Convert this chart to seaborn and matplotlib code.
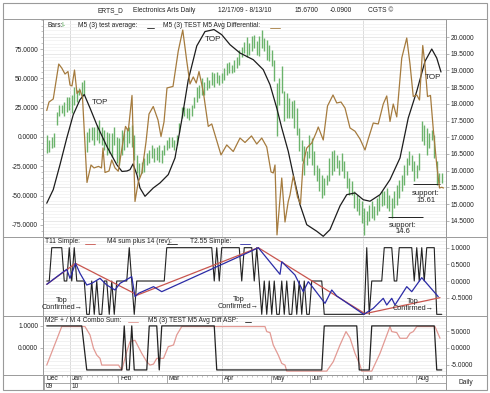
import numpy as np
import matplotlib
matplotlib.use("Agg")
import matplotlib.pyplot as plt
from matplotlib.lines import Line2D
from matplotlib.patches import Rectangle
import seaborn as sns

# ---- price bars (high / low per trading day) ----
bar_hi = [17.07, 16.92, 17.02, 17.12, 17.76, 17.96, 17.96, 18.06, 18.21, 18.21,
          18.26, 18.51, 18.41, 18.46, 18.66, 18.71, 17.17, 17.27, 17.32, 17.32,
          17.37, 17.52, 17.32, 17.22, 17.17, 17.12, 17.12, 17.32, 17.02, 16.97,
          17.22, 17.12, 17.27, 17.32, 17.37, 17.07, 16.47, 16.22, 16.27, 16.37,
          16.52, 16.62, 16.77, 16.67, 16.72, 16.77, 16.62, 16.77, 16.92, 17.02,
          17.02, 16.92, 17.07, 17.42, 17.91, 17.91, 17.86, 17.86, 17.96, 18.21,
          18.51, 18.56, 18.76, 18.66, 18.81, 18.71, 18.96, 18.91, 18.96, 18.86,
          18.91, 19.06, 19.21, 19.26, 19.16, 19.31, 19.41, 19.61, 19.71, 19.86,
          20.01, 19.81, 20.02, 20.07, 19.87, 20.02, 20.22, 19.97, 19.92, 19.77,
          19.62, 19.32, 18.62, 18.77, 19.12, 18.37, 18.32, 18.17, 18.07, 18.12,
          17.87, 17.28, 16.93, 16.73, 16.58, 17.08, 16.98, 16.58, 16.18, 16.08,
          15.88, 15.78, 15.88, 16.38, 16.58, 16.63, 16.48, 16.33, 16.53, 16.28,
          15.98, 15.78, 15.68, 15.38, 15.28, 15.18, 15.08, 14.88, 14.78, 14.98,
          15.08, 14.93, 15.18, 15.28, 15.38, 15.38, 15.48, 15.28, 15.18, 15.38,
          15.58, 15.73, 15.88, 16.18, 16.38, 16.58, 16.48, 16.28, 16.18, 16.53,
          17.48, 17.38, 17.28, 17.13, 17.23, 17.08, 16.28, 15.92, 15.92]
bar_lo = [16.52, 16.57, 16.67, 16.72, 17.37, 17.62, 17.71, 17.62, 17.76, 17.81,
          17.71, 17.96, 18.06, 18.26, 18.16, 18.26, 16.57, 16.87, 16.92, 16.77,
          16.92, 16.82, 16.77, 16.62, 16.47, 16.52, 16.42, 16.77, 16.22, 16.17,
          16.47, 16.62, 16.72, 16.82, 16.72, 16.32, 15.92, 15.82, 15.92, 15.97,
          16.17, 16.22, 16.37, 16.27, 16.32, 16.27, 16.22, 16.47, 16.62, 16.67,
          16.72, 16.62, 16.77, 17.17, 17.57, 17.62, 17.57, 17.52, 17.62, 17.86,
          18.06, 18.16, 18.26, 18.26, 18.41, 18.46, 18.56, 18.51, 18.61, 18.56,
          18.61, 18.71, 18.86, 18.91, 18.91, 18.96, 19.06, 19.16, 19.41, 19.51,
          19.41, 19.46, 19.57, 19.67, 19.47, 19.42, 19.67, 19.57, 19.32, 19.27,
          19.12, 18.67, 17.03, 17.97, 18.32, 17.48, 17.58, 17.58, 17.58, 17.28,
          17.08, 16.58, 16.28, 15.88, 16.18, 16.38, 16.18, 15.88, 15.68, 15.38,
          15.18, 15.28, 15.58, 15.68, 15.88, 15.98, 16.08, 15.88, 15.98, 15.78,
          15.48, 15.28, 15.28, 14.88, 14.78, 14.68, 14.43, 14.08, 14.38, 14.48,
          14.58, 14.53, 14.68, 14.78, 14.93, 14.98, 14.88, 14.78, 14.58, 14.88,
          14.98, 15.18, 15.38, 15.58, 15.88, 16.18, 15.98, 15.68, 15.78, 16.03,
          16.88, 16.78, 16.48, 16.68, 16.93, 16.38, 15.58, 15.63, 15.63]

# ---- M5 (3) test average (black) ----
avg_x = [0, 2.6, 5.3, 8, 10.6, 13.3, 15, 17.3, 20, 24, 28, 30.1, 32.1, 33.3, 34.5, 36.1,
         37.3, 39.3, 42.6, 45.3, 48.6, 51.3, 54, 56.6, 60, 63.3, 66.9, 70, 73.3, 77.3,
         82.6, 86.6, 89.3, 92, 94, 96.6, 98.6, 101.3, 104, 108, 110.6, 113.3, 117.3,
         120, 123.3, 126.6, 129.3, 133.3, 137.3, 141.3, 144.6, 148, 151.3, 154, 156, 157.7]
avg_v = [-56.5, -44.9, -23.6, -1.0, 19.0, 31.8, 36.2, 24.7, 10.5, -7.9, -23.6, -29.4,
         -29.0, -27.9, -23.0, -32.4, -43.5, -50.6, -43.5, -39.2, -32.1, -17.9, 14.5,
         48.6, 77.6, 89.9, 91.6, 87.2, 78.7, 71.6, 65.9, 57.4, 44.6, 24.7, 7.7, -12.2,
         -32.1, -57.7, -74.8, -80.4, -84.7, -79.0, -58.8, -49.2, -47.7, -53.5, -54.8,
         -49.2, -36.4, -17.9, 16.2, 39.0, 64.5, 75.0, 67.3, 55.4]

# ---- M5 (3) TEST M5 Avg Differential (brown) ----
diff_x = [0, 0.9, 2.6, 4.8, 6, 7.3, 8.5, 9.3, 10.1, 11.1,
          12.1, 13.3, 14.3, 16.1, 17.7, 18.9, 20.7, 21.9, 22.5, 23.3,
          24.9, 26, 27.3, 28.6, 30.1, 31.5, 32.6, 34.1, 35.3, 36.6,
          38, 39.7, 40.9, 42.6, 44.5, 45.7, 46.9, 48.1, 50.5, 52.6,
          54.4, 56, 57.3, 58.6, 59.8, 60.9, 62.6, 64.6, 66, 69.7,
          72, 74.6, 77.3, 79.3, 81.9, 84, 86, 88, 89.7, 90.6,
          91.3, 92.1, 94, 95.3, 96.6, 97.3, 98.6, 100.3, 101.5, 102.5,
          104, 106, 107.9, 108.6, 110.6, 112.3, 114.5, 116, 117.7, 119.3,
          121.3, 123.3, 125.3, 127.3, 128.6, 130.6, 132.6, 134.6, 136, 137.3,
          138.6, 140, 142, 144, 145.3, 146.6, 148, 149.1, 150.4, 151.3,
          152.3, 153.5, 154.6, 156, 157.1, 158, 158.7]
diff_v = [22.6, 29.8, 32.4, 62.2, 58.8, 53.7, 55.8, 44.3, 43.5, 57.1,
          37.1, 40.1, 33.7, -38.8, -23.9, -26.4, -25.1, -26.4, -9.4, -30.3,
          -29.0, -19.6, -26.4, -29.2, -9.4, 9.0, 5.1, 35.4, -55.0, -38.4,
          -30.9, -4.3, 19.6, 26.0, 14.5, 0.4, 12.8, 41.8, 43.1, 73.3,
          91.2, 64.8, 45.2, 51.2, 46.0, 55.8, 38.8, 9.0, 11.1, -15.3,
          -6.8, -12.4, -0.9, -4.7, 0.9, -6.0, -0.9, -8.5, -29.8, -30.7,
          -23.9, -83.5, -35.0, -72.5, -55.0, -49.4, -33.2, -51.2, -57.1, -23.4,
          -9.4, -5.1, 4.3, 8.5, -2.6, 26.4, 35.8, 29.0, 29.8, 24.7,
          7.7, 4.9, -1.7, -11.1, -1.7, 11.9, 11.1, 28.1, 35.0, 13.2,
          28.1, 17.1, 67.3, 84.4, 62.2, 34.5, 35.8, 31.5, 78.0, 61.4,
          34.5, 35.4, 6.8, -23.9, -43.5, -42.9, -43.5]

# ---- panel 2 ----
m4_x = [0, 1, 2, 6, 7, 8, 9, 10, 11, 12, 15, 16, 17, 18, 19, 20, 21, 22, 23, 24,
        25, 26, 27, 28, 32, 33, 34, 35, 36, 47, 48, 66, 67, 68, 69, 70, 77, 78, 79, 82,
        83, 84, 85, 86, 87, 88, 89, 90, 91, 92, 93, 94, 95, 96, 97, 98, 99, 100, 101, 102,
        103, 104, 105, 106, 110, 111, 127, 128, 129, 130, 134, 135, 138, 139, 140, 141,
        146, 147, 148, 149, 150, 151, 152, 155, 156, 158]
m4_y = [0, 0, 1, 1, 0, 0, 1, 0, 1, 0, 0, -1, -1, 0, -1, 0, -1, -1, 0, 0,
        -1, 0, -1, 0, 0, 1, 0, -1, 0, 0, 1, 1, 0, 1, 0, 1, 1, 0, 1, 1,
        0, 1, 0, -1, 0, -1, 0, -1, 0, -1, -1, 0, -1, 0, -1, -1, 0, -1, 0, -1,
        0, -1, -1, 0, 0, -1, -1, 1, -1, 0, 0, 1, 1, 0, 0, 1,
        1, 0, 1, 0, 1, 0, 1, 1, -1, -1]
t11_x = [0, 11.5, 36.3, 84.6, 127.3, 157.3]
t11_y = [-0.1, 0.53, -0.42, 1.0, -0.98, -0.5]
t255_x = [0, 8, 9.3, 11.5, 13.3, 16, 18, 21.3, 24, 27.3, 29.3, 34, 35.3, 36.7, 42.7, 46,
          81.3, 84.6, 93.3, 94, 99.3, 102.6, 104.6, 106, 111.3, 114, 116, 126.8, 130.6,
          134.6, 136, 138, 139.3, 144, 146, 150, 156.6]
t255_y = [-0.1, 0.35, 0.08, 0.53, 0.23, -0.12, -0.07, 0.08, -0.12, -0.27, -0.07, 0.13,
          -0.47, -0.37, -0.17, -0.32, 0.88, 1.0, 0.2, 0.58, 0.18, -0.32, -0.02, -0.15,
          -0.67, -0.27, -0.45, -1.0, -0.82, -0.52, -0.72, -0.52, -0.72, -0.17, -0.32,
          0.1, -0.47]

# ---- panel 3 ----
asp_x = [0, 14, 16, 30, 31, 32, 33, 34, 35, 40, 41, 44, 45, 46, 67, 68, 110, 111, 124,
         125, 129, 130, 155, 156, 158]
asp_y = [1, 1, -1, -1, 1, -1, -1, 1, -1, -1, 1, 1, -1, 1, 1, -1, -1, 1, 1, -1, -1, 1, 1, -1, -1]
combo_x = [0, 6, 15.3, 17.3, 18.7, 20, 21.3, 22, 28.7, 30, 32, 33.3, 35.3, 38, 40, 41.3,
           42.7, 44, 46.7, 48.6, 50.7, 52, 54, 87.3, 88, 89.3, 90.6, 92.6, 94, 95.3, 96,
           112, 114.6, 117.3, 119.7, 121.3, 123.3, 125.3, 126, 130, 133.3, 137.3, 138,
           140, 141.3, 144, 145.3, 146.6, 148, 155.3, 157.3]
combo_y = [-5.1, 6.4, 6.4, 3.9, -0.1, -2.1, -3.1, -5.1, -5.1, -6.6, -1.1, 1.9, 2.3, -1.6,
           -4.1, -5.1, -4.8, -3.1, -3.1, 0.4, 0.9, 3.9, 6.4, 6.4, 4.9, 4.6, 0.9, -2.1,
           -4.6, -5.1, -6.9, -6.9, -4.1, 0.9, 4.9, 3.0, -1.6, -5.1, -6.9, -6.9, -1.6, 6.4,
           4.9, 4.6, 2.9, 2.9, 4.4, 4.9, 6.4, 6.4, 2.9]

# ---- axis labels ----
month_names = ['Dec', 'Jan', 'Feb', 'Mar', 'Apr', 'May', 'Jun', 'Jul', 'Aug']
month_pos = [-1.1, 9.3, 28.6, 48.0, 70.0, 89.6, 105.3, 126.6, 147.6]
year_names = {'Dec': '09', 'Jan': '10'}
quarter_pos = [9.3, 70.0, 126.6]
price_ticks = [20.0, 19.5, 19.0, 18.5, 18.0, 17.5, 17.0, 16.5, 16.0, 15.5, 15.0, 14.5]
osc_ticks = [75, 50, 25, 0, -25, -50, -75]
sig_ticks = [1.0, 0.5, 0.0, -0.5]
asp_ticks = [1.0, 0.0]
combo_ticks = [5.0, 0.0, -5.0]
support_14 = 14.6
support_15 = 15.61

sns.set_style("white")
plt.rcParams['font.family'] = ['Liberation Sans', 'DejaVu Sans']

W, H = 490, 393
fig = plt.figure(figsize=(W / 100, H / 100), dpi=100)
FRAME = '#9a9a9a'
FS = 4.8


def box(l, t, r, b):
    return [l / W, 1 - b / H, (r - l) / W, (b - t) / H]


def style(ax):
    ax.set_xlim(-1.5, 159.7)
    ax.set_xticks([])
    ax.set_xlabel('')
    ax.set_ylabel('')
    for s in ax.spines.values():
        s.set_color(FRAME)
        s.set_linewidth(0.7)
    ax.tick_params(axis='y', which='major', labelsize=FS, length=2, width=0.5,
                   color=FRAME, pad=1.5, labelcolor='#222222')
    ax.tick_params(axis='y', which='minor', length=1.2, width=0.4, color=FRAME)


def fmt(vals):
    return [f"{v:.4f}" for v in vals]


def figline(x0, x1, y, color, lw=0.8):
    fig.add_artist(Line2D([x0 / W, x1 / W], [1 - y / H] * 2, color=color, lw=lw,
                          transform=fig.transFigure))


def figtext(x, y, s, color='#222222', size=FS, **kw):
    fig.text(x / W, 1 - y / H, s, color=color, fontsize=size, va='center', **kw)


# ---- main panel ----
ax1 = fig.add_axes(box(43, 19, 446, 237))
ax1p = ax1.twinx()
days = np.arange(len(bar_hi))
ax1p.vlines(days, bar_lo, bar_hi, color='#6bb36b', lw=1.0)
ax1p.hlines(support_14, 136.5, 150.5, color='#222222', lw=0.7)
ax1p.hlines(support_15, 146.6, 157.3, color='#222222', lw=0.7)
ax1p.text(142.5, 14.27, "support:\n14.6", fontsize=5.5, ha='center', va='center',
          linespacing=0.95)
ax1p.text(151.7, 15.22, "support:\n15.61", fontsize=5.5, ha='center', va='center',
          linespacing=0.95)
for d in quarter_pos:
    ax1p.axvline(d, color='#d6d6d6', lw=0.6, zorder=0)

sns.lineplot(x=avg_x, y=avg_v, ax=ax1, color='#1c1c1c', lw=0.9, estimator=None, sort=False)
sns.lineplot(x=diff_x, y=diff_v, ax=ax1, color='#a57b3e', lw=0.9, estimator=None, sort=False)
ax1.text(21.3, 29, "TOP", fontsize=5.8, ha='center', va='center')
ax1.text(66.4, 83, "TOP", fontsize=5.8, ha='center', va='center')
ax1.text(154.5, 50.3, "TOP", fontsize=5.8, ha='center', va='center')

style(ax1)
style(ax1p)
ax1.set_ylim(-85.3, 100.6)
ax1.set_yticks(osc_ticks)
ax1.set_yticklabels(fmt(osc_ticks))
ax1.set_yticks(np.arange(-85, 101, 5), minor=True)
ax1p.set_ylim(14.012, 20.539)
ax1p.set_yticks(price_ticks)
ax1p.set_yticklabels(fmt(price_ticks))
ax1p.set_yticks(np.arange(14.1, 20.55, 0.1), minor=True)
ax1p.tick_params(axis='y', which='minor', length=0)
ax1p.grid(True, which='minor', axis='y', color='#f0f0f0', lw=0.5)
ax1p.grid(True, which='major', axis='y', color='#dedede', lw=0.5)
ax1.set_zorder(ax1p.get_zorder() + 1)
ax1.patch.set_visible(False)

# ---- panel 2 ----
ax2 = fig.add_axes(box(43, 237, 446, 316))
for d in quarter_pos:
    ax2.axvline(d, color='#d6d6d6', lw=0.6, zorder=0)
sns.lineplot(x=m4_x, y=m4_y, ax=ax2, color='#222222', lw=0.8, estimator=None, sort=False)
sns.lineplot(x=t11_x, y=t11_y, ax=ax2, color='#c8554e', lw=0.9, estimator=None, sort=False)
sns.lineplot(x=t255_x, y=t255_y, ax=ax2, color='#2b2ba6', lw=0.9, estimator=None, sort=False)
for (xd, yv) in [(6.1, -0.68), (76.7, -0.66), (146.5, -0.72)]:
    ax2.text(xd, yv, "Top\nConfirmed\u2192", fontsize=5.3, ha='center', va='center',
             linespacing=0.95)
style(ax2)
ax2.yaxis.tick_right()
ax2.set_ylim(-1.05, 1.32)
ax2.set_yticks(sig_ticks)
ax2.set_yticklabels(fmt(sig_ticks))
ax2.set_yticks(np.arange(-1.0, 1.31, 0.1), minor=True)
ax2.tick_params(axis='y', which='minor', length=0)
ax2.grid(True, which='both', axis='y', color='#ebebeb', lw=0.5)

# ---- panel 3 ----
ax3 = fig.add_axes(box(43, 316, 446, 375))
ax3r = ax3.twinx()
for d in quarter_pos:
    ax3r.axvline(d, color='#d6d6d6', lw=0.6, zorder=0)
sns.lineplot(x=combo_x, y=combo_y, ax=ax3r, color='#e29a94', lw=0.9, estimator=None, sort=False)
sns.lineplot(x=asp_x, y=asp_y, ax=ax3, color='#222222', lw=0.9, estimator=None, sort=False)
style(ax3)
style(ax3r)
ax3.set_ylim(-1.23, 1.45)
ax3.set_yticks(asp_ticks)
ax3.set_yticklabels(fmt(asp_ticks))
ax3r.set_ylim(-8.06, 9.55)
ax3r.set_yticks(combo_ticks)
ax3r.set_yticklabels(fmt(combo_ticks))
ax3r.set_yticks(np.arange(-8, 10, 1.0), minor=True)
ax3r.tick_params(axis='y', which='minor', length=0)
ax3r.grid(True, which='both', axis='y', color='#ebebeb', lw=0.5)
ax3.set_zorder(ax3r.get_zorder() + 1)
ax3.patch.set_visible(False)

# ---- date row ----
axd = fig.add_axes(box(43, 375, 446, 390))
style(axd)
axd.set_ylim(0, 1)
axd.set_yticks([])
axd.set_xticks(np.arange(0, 159, 2), minor=True)
axd.tick_params(axis='x', which='minor', direction='in', length=1.5, width=0.4,
                color=FRAME, top=True, bottom=False)
axd.axhline(0.5, color=FRAME, lw=0.6)
for name, pos in zip(month_names, month_pos):
    top = 0.0 if name in year_names else 0.5
    axd.plot([pos, pos], [top, 1], color=FRAME, lw=0.6)
    axd.text(pos + 0.8, 0.76, name, fontsize=FS, va='center', ha='left')
    if name in year_names:
        axd.text(pos + 0.8, 0.24, year_names[name], fontsize=FS, va='center', ha='left')

# ---- frame and header ----
fig.add_artist(Rectangle((3 / W, 1 - 390 / H), 484 / W, 387 / H, fill=False,
                         ec=FRAME, lw=0.8, transform=fig.transFigure))
for y in [19, 237, 316, 375]:
    figline(3, 487, y, FRAME, 0.7)
fig.add_artist(Line2D([446 / W] * 2, [1 - 19 / H, 1 - 390 / H], color=FRAME, lw=0.7,
                      transform=fig.transFigure))

figtext(97, 11, "ERTS_D")
figtext(133, 11, "Electronics Arts Daily")
figtext(218, 11, "12/17/09 - 8/13/10")
figtext(295, 11, "15.6700")
figtext(330, 11, "-0.0900")
figtext(368, 11, "CGTS \u00a9")
figtext(458, 382.5, "Daily")

figtext(47, 25.5, "Bars:")
figtext(61, 25.5, "I-", color='#4aa04a')
figtext(78, 25.5, "M5 (3) test average:")
figline(147, 154, 27.5, '#222222', 0.6)
figtext(163, 25.5, "M5 (3) TEST M5 Avg Differential:")
figline(270, 280, 27.5, '#a57b3e', 0.6)

figtext(45, 241.5, "T11 Simple:")
figline(85, 95, 243.5, '#c8554e', 0.6)
figtext(106.7, 241.5, "M4 sum plus 14 (rev):")
figline(167, 177, 243.5, '#222222', 0.6)
figtext(190, 241.5, "T2.55 Simple:")
figline(240, 250, 243.5, '#2b2ba6', 0.6)

figtext(45, 320, "M2F + / M 4 Combo Sum:")
figline(128, 138, 322, '#e29a94', 0.6)
figtext(148, 320, "M5 (3) TEST M5 Avg Diff ASP:")
figline(245, 251, 322, '#222222', 0.6)

fig.savefig("out.png", dpi=100)
